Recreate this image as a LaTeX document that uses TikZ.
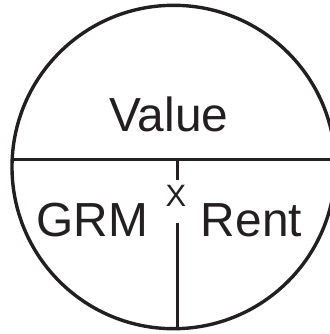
\documentclass[tikz,border=0pt]{standalone}
\usepackage{fontspec}
\setmainfont{Liberation Sans}
\definecolor{ink}{RGB}{35,31,32}
\begin{document}
\begin{tikzpicture}[x=1bp,y=-1bp,
  rim/.style={draw=ink,line width=3.4bp},
  lbl/.style={text=ink,anchor=base,inner sep=0pt,font=\fontsize{48}{48}\selectfont},
  times/.style={text=ink,anchor=base,inner sep=0pt,font=\fontsize{31}{31}\selectfont}]
\useasboundingbox (0,0) rectangle (330,334);
\clip (0,0) rectangle (330,334);
\coordinate (ctr) at (173.7,167);
\draw[rim] (ctr) circle[radius=161.7];
\coordinate (hl) at (12.2,159.5);
\coordinate (hr) at (340,159.5);
\draw[rim] (hl) -- (hr);
\coordinate (vt) at (177.5,159.5);
\coordinate (vt2) at (177.5,180);
\coordinate (vb1) at (177.5,223.3);
\coordinate (vb) at (177.5,328.7);
\draw[rim] (vt) -- (vt2);
\draw[rim] (vb1) -- (vb);
\node[lbl] (value) at (169,131.7) {Value};
\node[lbl] (grm) at (92.5,236.7) {GRM};
\node[lbl] (rent) at (251.5,236.7) {Rent};
\node[times] (x) at (175.8,206.7) {X};
\end{tikzpicture}
\end{document}
